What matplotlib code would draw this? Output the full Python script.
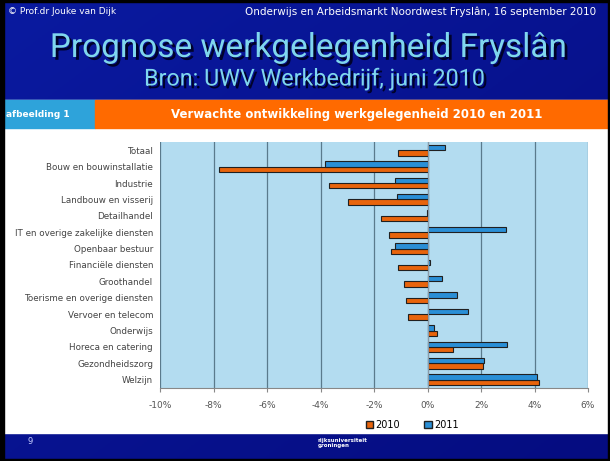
import numpy as np
import matplotlib.pyplot as plt
import matplotlib.patheffects as pe
from matplotlib.patches import Rectangle

# data (percent change)
sectors = ["Totaal", "Bouw en bouwinstallatie", "Industrie", "Landbouw en visserij",
           "Detailhandel", "IT en overige zakelijke diensten", "Openbaar bestuur",
           "Financiële diensten", "Groothandel", "Toerisme en overige diensten",
           "Vervoer en telecom", "Onderwijs", "Horeca en catering",
           "Gezondheidszorg", "Welzijn"]
v2010 = [-1.12, -7.8, -3.67, -2.98, -1.73, -1.45, -1.36, -1.12, -0.86, -0.82,
         -0.74, 0.35, 0.95, 2.07, 4.16]
v2011 = [0.66, -3.82, -1.2, -1.15, -0.03, 2.94, -1.22, 0.1, 0.54, 1.1,
         1.51, 0.24, 2.98, 2.13, 4.09]
xticks = [-10, -8, -6, -4, -2, 0, 2, 4, 6]

W, H = 610, 461
fig = plt.figure(figsize=(W / 100, H / 100), dpi=100)

# slide background (dark blue gradient)
bg = fig.add_axes([0, 0, 1, 1])
bg.set_axis_off()
grad = np.linspace(0, 1, 256)
img = np.outer(np.ones(256), grad) * 0.5 + np.outer(grad, np.ones(256)) * 0.5
bg.imshow(img, extent=[0, W, H, 0], cmap=plt.matplotlib.colors.LinearSegmentedColormap.from_list(
    "slide", ["#0a1aa0", "#050c80"]), aspect="auto")
bg.set_xlim(0, W)
bg.set_ylim(H, 0)

# white chart panel and header bars
bg.add_patch(Rectangle((0, 100), W, 333, color="white"))
bg.add_patch(Rectangle((0, 100), 95, 28, color="#2ea3da"))
bg.add_patch(Rectangle((95, 100), W - 95, 28, color="#ff6a00"))
bg.add_patch(Rectangle((0, 0), 4, H, color="black"))
bg.add_patch(Rectangle((0, 0), W, 2, color="black"))
bg.add_patch(Rectangle((0, H - 2), W, 2, color="black"))
bg.add_patch(Rectangle((W - 2, 0), 2, H, color="black"))

bg.text(8, 12, "© Prof.dr Jouke van Dijk", color="white", fontsize=6.5, va="center")
bg.text(596, 12, "Onderwijs en Arbeidsmarkt Noordwest Fryslân, 16 september 2010",
        color="white", fontsize=7.5, va="center", ha="right")
shadow = [pe.withSimplePatchShadow(offset=(2, -2), shadow_rgbFace="#000020", alpha=0.9)]
bg.text(308, 48, "Prognose werkgelegenheid Fryslân", color="#7fd6ee", fontsize=24,
        ha="center", va="center", family="Roboto", path_effects=shadow)
bg.text(315, 79, "Bron: UWV Werkbedrijf, juni 2010", color="#7fd6ee", fontsize=16.8,
        ha="center", va="center", family="Roboto", path_effects=shadow)
bg.text(6, 114, "afbeelding 1", color="white", fontsize=6.5, fontweight="bold", va="center")
bg.text(357, 114, "Verwachte ontwikkeling werkgelegenheid 2010 en 2011", color="white",
        fontsize=8.5, fontweight="bold", va="center", ha="center")
bg.text(28, 441, "9", color="#c8d0ff", fontsize=6, va="center")
bg.text(318, 443, "rijksuniversiteit\ngroningen", color="white", fontsize=4,
        fontweight="bold", va="center")

# the bar chart
ax = fig.add_axes([160 / W, 1 - 388 / H, 428 / W, 246 / H])
ax.set_facecolor("#b3dcf0")
y = np.arange(len(sectors))
h = 0.33
ax.barh(y + h / 2, v2010, height=h, color="#e8640c", edgecolor="#202020", linewidth=0.8, label="2010")
ax.barh(y - h / 2, v2011, height=h, color="#2a8fd6", edgecolor="#202020", linewidth=0.8, label="2011")
ax.set_ylim(len(sectors) - 0.5, -0.5)
ax.set_xlim(-10, 6)
ax.set_xticks(xticks)
ax.set_xticklabels([f"{t}%" for t in xticks], fontsize=6.5, color="#555555")
ax.set_yticks(y)
ax.set_yticklabels(sectors, fontsize=6.3, color="#444444")
ax.tick_params(axis="y", length=0, pad=5)
ax.tick_params(axis="x", length=3, color="#888888", pad=6)
ax.grid(axis="x", color="#5a7a8c", linewidth=0.9)
ax.set_axisbelow(True)
ax.axvline(0, color="#8a9aa8", linewidth=0.8, zorder=1)
for s in ["top", "right", "left"]:
    ax.spines[s].set_visible(False)
ax.spines["bottom"].set_color("#888888")

handles = [Rectangle((0, 0), 1, 1, facecolor="#e8640c", edgecolor="#202020"),
           Rectangle((0, 0), 1, 1, facecolor="#2a8fd6", edgecolor="#202020")]
fig.legend(handles, ["2010", "2011"], loc="center", bbox_to_anchor=(412 / W, 1 - 425 / H),
           ncol=2, frameon=False, fontsize=7, handlelength=0.8, handleheight=0.8,
           handletextpad=0.2, columnspacing=2.5)

fig.savefig("out.png", dpi=100)
